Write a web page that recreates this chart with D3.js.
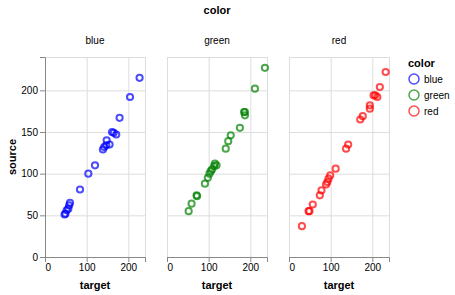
<!DOCTYPE html>
<html><head><meta charset="utf-8">
<script src="https://cdn.jsdelivr.net/npm/d3@7"></script>
<style>body{margin:0;background:#fff;font-family:"Liberation Sans",Arial,sans-serif}</style>
</head><body><svg id="c" width="455" height="295"></svg>
<script>
const colors = ["blue", "green", "red"];
const blueTarget = [227,204,179,161,165,171,148,155,147,142,139,120,104,84,60,58,56,52,49,47];
const blueSource = [215,192,167,150,149,147,140,135,134,132,129,110,100,81,65,62,58,56,52,51];
const greenTarget = [235,211,185,187,187,175,153,147,141,115,119,113,108,105,102,98,91,71,72,59,52];
const greenSource = [227,202,174,174,170,155,146,139,130,112,110,109,105,103,100,95,88,74,73,64,55];
const redTarget = [232,218,203,207,212,194,194,177,171,142,137,112,99,95,92,89,78,74,57,49,47,31];
const redSource = [222,204,194,194,192,182,178,169,165,135,130,106,98,94,90,87,80,74,63,55,55,37];
const xTicks = [0,100,200];
const yTicks = [0,50,100,150,200];

const series = {
  blue: blueTarget.map((t,i)=>({target:t, source:blueSource[i]})),
  green: greenTarget.map((t,i)=>({target:t, source:greenSource[i]})),
  red: redTarget.map((t,i)=>({target:t, source:redSource[i]}))
};

const svg = d3.select("#c");
const W = 100, H = 200, panelTop = 57, lefts = [45,167,289];
const x = d3.scaleLinear().domain([0,240]).range([0,W]);
const y = d3.scaleLinear().domain([0,240]).range([H,0]);
const color = d3.scaleOrdinal().domain(colors).range(["blue","green","red"]);

svg.append("text").attr("x",217).attr("y",14).attr("text-anchor","middle")
  .attr("font-size",11).attr("font-weight","bold").text("color");

colors.forEach((c,i)=>{
  const g = svg.append("g").attr("transform",`translate(${lefts[i]},${panelTop})`);
  svg.append("text").attr("x",lefts[i]+W/2).attr("y",44).attr("text-anchor","middle")
    .attr("font-size",10).text(c);
  g.append("g").selectAll("line").data(xTicks).join("line")
    .attr("x1",d=>x(d)+0.5).attr("x2",d=>x(d)+0.5).attr("y1",0).attr("y2",H)
    .attr("stroke","#ddd");
  g.append("g").selectAll("line").data(yTicks).join("line")
    .attr("y1",d=>y(d)+0.5).attr("y2",d=>y(d)+0.5).attr("x1",0).attr("x2",W)
    .attr("stroke","#ddd");
  g.append("rect").attr("x",0.5).attr("y",0.5).attr("width",W).attr("height",H)
    .attr("fill","none").attr("stroke","#ddd");
  const xa = g.append("g").attr("transform",`translate(0,${H})`)
    .call(d3.axisBottom(x).tickValues(xTicks).tickSize(5).tickPadding(2));
  xa.select(".domain").attr("stroke","#888");
  xa.selectAll(".tick line").attr("stroke","#888");
  xa.selectAll("text").attr("font-size",10).attr("font-family","Liberation Sans, Arial, sans-serif").attr("fill","#000");
  xa.selectAll(".tick").filter(d=>d===0).select("text").attr("text-anchor","start");
  svg.append("text").attr("x",lefts[i]+W/2).attr("y",289).attr("text-anchor","middle")
    .attr("font-size",11).attr("font-weight","bold").text("target");
  if(i===0){
    const ya = g.append("g").call(d3.axisLeft(y).tickValues(yTicks).tickSize(5).tickPadding(2));
    ya.select(".domain").attr("stroke","#888");
    ya.selectAll(".tick line").attr("stroke","#888");
    ya.selectAll("text").attr("font-size",10).attr("font-family","Liberation Sans, Arial, sans-serif").attr("fill","#000");
    svg.append("text").attr("transform",`translate(16,${panelTop+H/2}) rotate(-90)`)
      .attr("text-anchor","middle").attr("font-size",11).attr("font-weight","bold").text("source");
  }
  g.append("g").selectAll("circle").data(series[c]).join("circle")
    .attr("cx",d=>x(d.target)).attr("cy",d=>y(d.source)).attr("r",3.1)
    .attr("fill","none").attr("stroke",color(c)).attr("stroke-width",2).attr("stroke-opacity",0.7);
});

const lg = svg.append("g").attr("transform","translate(408,0)");
lg.append("text").attr("x",0).attr("y",67).attr("font-size",11).attr("font-weight","bold").text("color");
colors.forEach((c,i)=>{
  lg.append("circle").attr("cx",6).attr("cy",79+i*16).attr("r",5)
    .attr("fill","none").attr("stroke",color(c)).attr("stroke-width",1.5).attr("stroke-opacity",0.7);
  lg.append("text").attr("x",16).attr("y",82.5+i*16).attr("font-size",10).text(c);
});
</script></body></html>
